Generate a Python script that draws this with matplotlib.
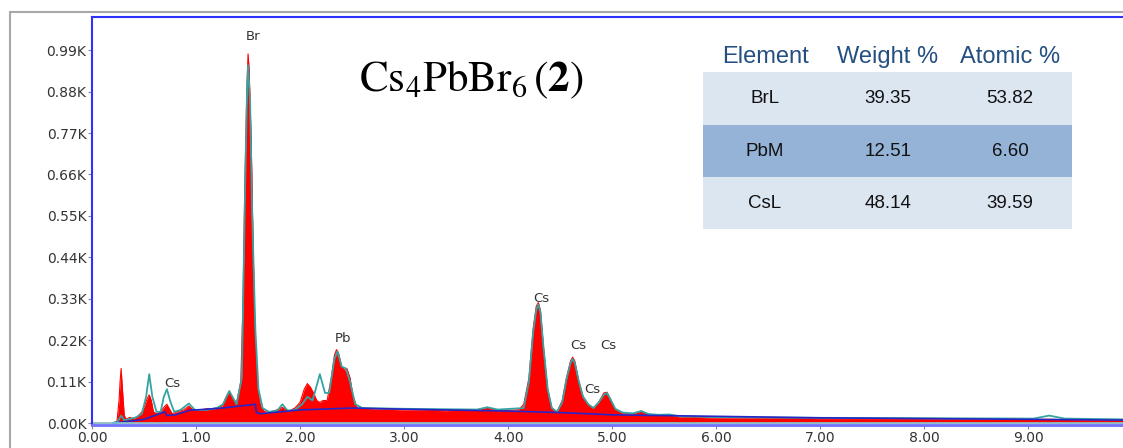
import matplotlib.pyplot as plt
from matplotlib.patches import Rectangle

plt.rcParams['mathtext.fontset'] = 'stix'

# measured spectrum (keV, counts)
energy = [0.00, 0.20, 0.24, 0.26, 0.27, 0.28, 0.29, 0.30, 0.31, 0.33, 0.36, 0.40, 0.44, 0.48,
          0.51, 0.53, 0.55, 0.57, 0.59, 0.62, 0.66, 0.70, 0.72, 0.74, 0.77, 0.82, 0.88, 0.93,
          0.96, 1.00, 1.05, 1.10, 1.15, 1.20, 1.25, 1.29, 1.32, 1.35, 1.39, 1.43, 1.45, 1.47,
          1.49, 1.50, 1.51, 1.53, 1.55, 1.57, 1.59, 1.62, 1.66, 1.70, 1.75, 1.80, 1.83, 1.86,
          1.90, 1.95, 2.00, 2.04, 2.07, 2.10, 2.13, 2.16, 2.19, 2.22, 2.26, 2.30, 2.33, 2.35,
          2.37, 2.40, 2.43, 2.45, 2.48, 2.51, 2.55, 2.60, 2.70, 3.00, 3.40, 3.70, 3.80, 3.90,
          4.10, 4.15, 4.20, 4.24, 4.27, 4.29, 4.31, 4.34, 4.38, 4.42, 4.47, 4.52, 4.56, 4.60,
          4.62, 4.64, 4.68, 4.72, 4.77, 4.82, 4.87, 4.92, 4.95, 4.98, 5.03, 5.10, 5.20, 5.28,
          5.35, 5.45, 5.55, 5.65, 6.00, 7.00, 8.00, 9.00, 9.20, 9.91]
counts = [0, 0, 5, 60, 110, 145, 100, 60, 20, 10, 15, 12, 18, 30,
          50, 65, 75, 60, 30, 25, 30, 45, 50, 40, 25, 30, 35, 45,
          38, 35, 35, 38, 38, 40, 45, 70, 85, 65, 55, 110, 300, 650,
          900, 980, 940, 750, 450, 200, 90, 45, 30, 30, 32, 38, 42, 36,
          33, 40, 55, 90, 105, 95, 80, 60, 55, 60, 60, 120, 180, 195,
          185, 150, 140, 145, 120, 70, 40, 40, 38, 35, 33, 35, 42, 33,
          35, 50, 120, 250, 310, 320, 300, 200, 90, 40, 30, 60, 120, 165,
          175, 165, 110, 70, 50, 40, 55, 80, 82, 65, 35, 25, 25, 32,
          22, 20, 22, 16, 14, 12, 12, 10, 10, 8]

# fitted spectrum
fit_energy = [0.20, 0.25, 0.28, 0.31, 0.35, 0.42, 0.48, 0.52, 0.55, 0.58, 0.62, 0.66, 0.69,
              0.72, 0.75, 0.79, 0.85, 0.93, 0.99, 1.10, 1.20, 1.26, 1.32, 1.39, 1.44, 1.47,
              1.49, 1.50, 1.52, 1.54, 1.57, 1.60, 1.64, 1.70, 1.78, 1.83, 1.88, 1.95, 2.02,
              2.07, 2.12, 2.19, 2.24, 2.28, 2.33, 2.36, 2.40, 2.44, 2.48, 2.53, 2.60, 3.00,
              3.70, 3.80, 3.90, 4.15, 4.20, 4.24, 4.27, 4.29, 4.31, 4.34, 4.38, 4.42, 4.47,
              4.52, 4.56, 4.60, 4.62, 4.64, 4.68, 4.72, 4.77, 4.82, 4.87, 4.92, 4.95, 4.98,
              5.03, 5.10, 5.20, 5.28, 5.35, 5.45, 5.55, 5.65, 6.00, 7.00, 8.00, 9.05, 9.20,
              9.35, 9.91]
fit_counts = [0, 5, 20, 8, 10, 15, 25, 70, 130, 70, 30, 30, 70,
              90, 60, 30, 35, 52, 35, 35, 40, 50, 85, 50, 120, 600,
              880, 950, 850, 550, 250, 90, 40, 30, 33, 50, 33, 35, 50,
              70, 60, 130, 80, 80, 170, 190, 150, 145, 110, 50, 40, 38,
              36, 42, 36, 40, 110, 240, 300, 315, 295, 200, 90, 40, 30,
              55, 115, 160, 170, 160, 110, 70, 50, 40, 55, 75, 80, 65,
              38, 28, 26, 32, 24, 22, 23, 18, 16, 14, 13, 12, 20,
              12, 10]

# background
bg_energy = [0.20, 0.30, 0.50, 0.70, 0.72, 0.80, 0.95, 1.00, 1.25, 1.57, 1.58, 1.62, 2.00,
             2.50, 3.00, 4.00, 4.50, 5.00, 5.50, 6.00, 7.00, 8.00, 9.00, 9.91]
bg_counts = [0, 3, 10, 30, 20, 22, 35, 35, 40, 50, 28, 25, 35,
             40, 37, 32, 28, 22, 20, 18, 14, 12, 10, 8]

peak_labels = ['Br', 'Pb', 'Cs', 'Cs', 'Cs', 'Cs', 'Cs']
label_x = [1.55, 2.41, 0.77, 4.32, 4.67, 4.96, 4.81]
label_y = [1025, 225, 106, 330, 207, 207, 88]

y_ticks = [0, 110, 220, 330, 440, 550, 660, 770, 880, 990]
x_ticks = [0, 1, 2, 3, 4, 5, 6, 7, 8, 9]

table_cols = ['Element', 'Weight %', 'Atomic %']
elements = ['BrL', 'PbM', 'CsL']
weight_pct = ['39.35', '12.51', '48.14']
atomic_pct = ['53.82', '6.60', '39.59']

fig = plt.figure(figsize=(11.23, 4.48), dpi=100)
fig.patches.append(Rectangle((10 / 1123, -0.1), 1.2, 1 - 12 / 448 + 0.1, transform=fig.transFigure,
                             fill=False, edgecolor='#a8a8a8', linewidth=1.5))
ax = fig.add_axes([92 / 1123, 23 / 448, 1 - 92 / 1123, 1 - 40 / 448])

ax.fill_between(energy, counts, color='red', linewidth=0)
ax.plot(energy, counts, color='red', linewidth=0.8)
ax.plot(fit_energy, fit_counts, color='#36a3a3', linewidth=1.3)
ax.plot(bg_energy, bg_counts, color='#2626c8', linewidth=1.2)
ax.axhline(0, color='#7fd0d8', linewidth=1.2)

for lab, x, y in zip(peak_labels, label_x, label_y):
    ax.text(x, y, lab, ha='center', va='center', fontsize=9.5, color='#333333')

ax.set_xlim(0, 9.91)
ax.set_ylim(-5, 1078)
ax.set_xticks(x_ticks)
ax.set_xticklabels([f'{v:.2f}' for v in x_ticks], fontsize=10, color='#333333')
ax.set_yticks(y_ticks)
ax.set_yticklabels([f'{v / 1000:.2f}K' for v in y_ticks], fontsize=10, color='#333333')
ax.tick_params(axis='both', length=3, width=0.8, color='#888888', pad=1)

for s in ['top', 'left']:
    ax.spines[s].set_color('#3030ff')
    ax.spines[s].set_linewidth(1.5)
ax.spines['bottom'].set_color('#7070ff')
ax.spines['bottom'].set_linewidth(2)
ax.spines['right'].set_visible(False)

# title
fig.text(471 / 1123, 1 - 80 / 448, r'$\mathrm{Cs_4PbBr_6}\,(\mathbf{2})$',
         fontsize=31, ha='center', va='center')

# composition table
tx0, tx1 = 703 / 1123, 1072 / 1123
row_edges = [72, 125, 177, 229]
row_colors = ['#dce6f1', '#95b3d7', '#dce6f1']
col_x = [765 / 1123, 888 / 1123, 1010 / 1123]
for i in range(3):
    y_top = 1 - row_edges[i] / 448
    y_bot = 1 - row_edges[i + 1] / 448
    fig.patches.append(Rectangle((tx0, y_bot), tx1 - tx0, y_top - y_bot, transform=fig.transFigure,
                                 facecolor=row_colors[i], edgecolor='none', zorder=5))
    for cx, val in zip(col_x, [elements[i], weight_pct[i], atomic_pct[i]]):
        fig.text(cx, (y_top + y_bot) / 2, val, ha='center', va='center', fontsize=13.5,
                 family='Liberation Sans', color='#111111', zorder=6)
for cx, name in zip(col_x, table_cols):
    fig.text(cx, 1 - 57 / 448, name, ha='center', va='center', fontsize=17,
             family='Liberation Sans', color='#254f80', zorder=6)

fig.savefig('out.png', dpi=100)
